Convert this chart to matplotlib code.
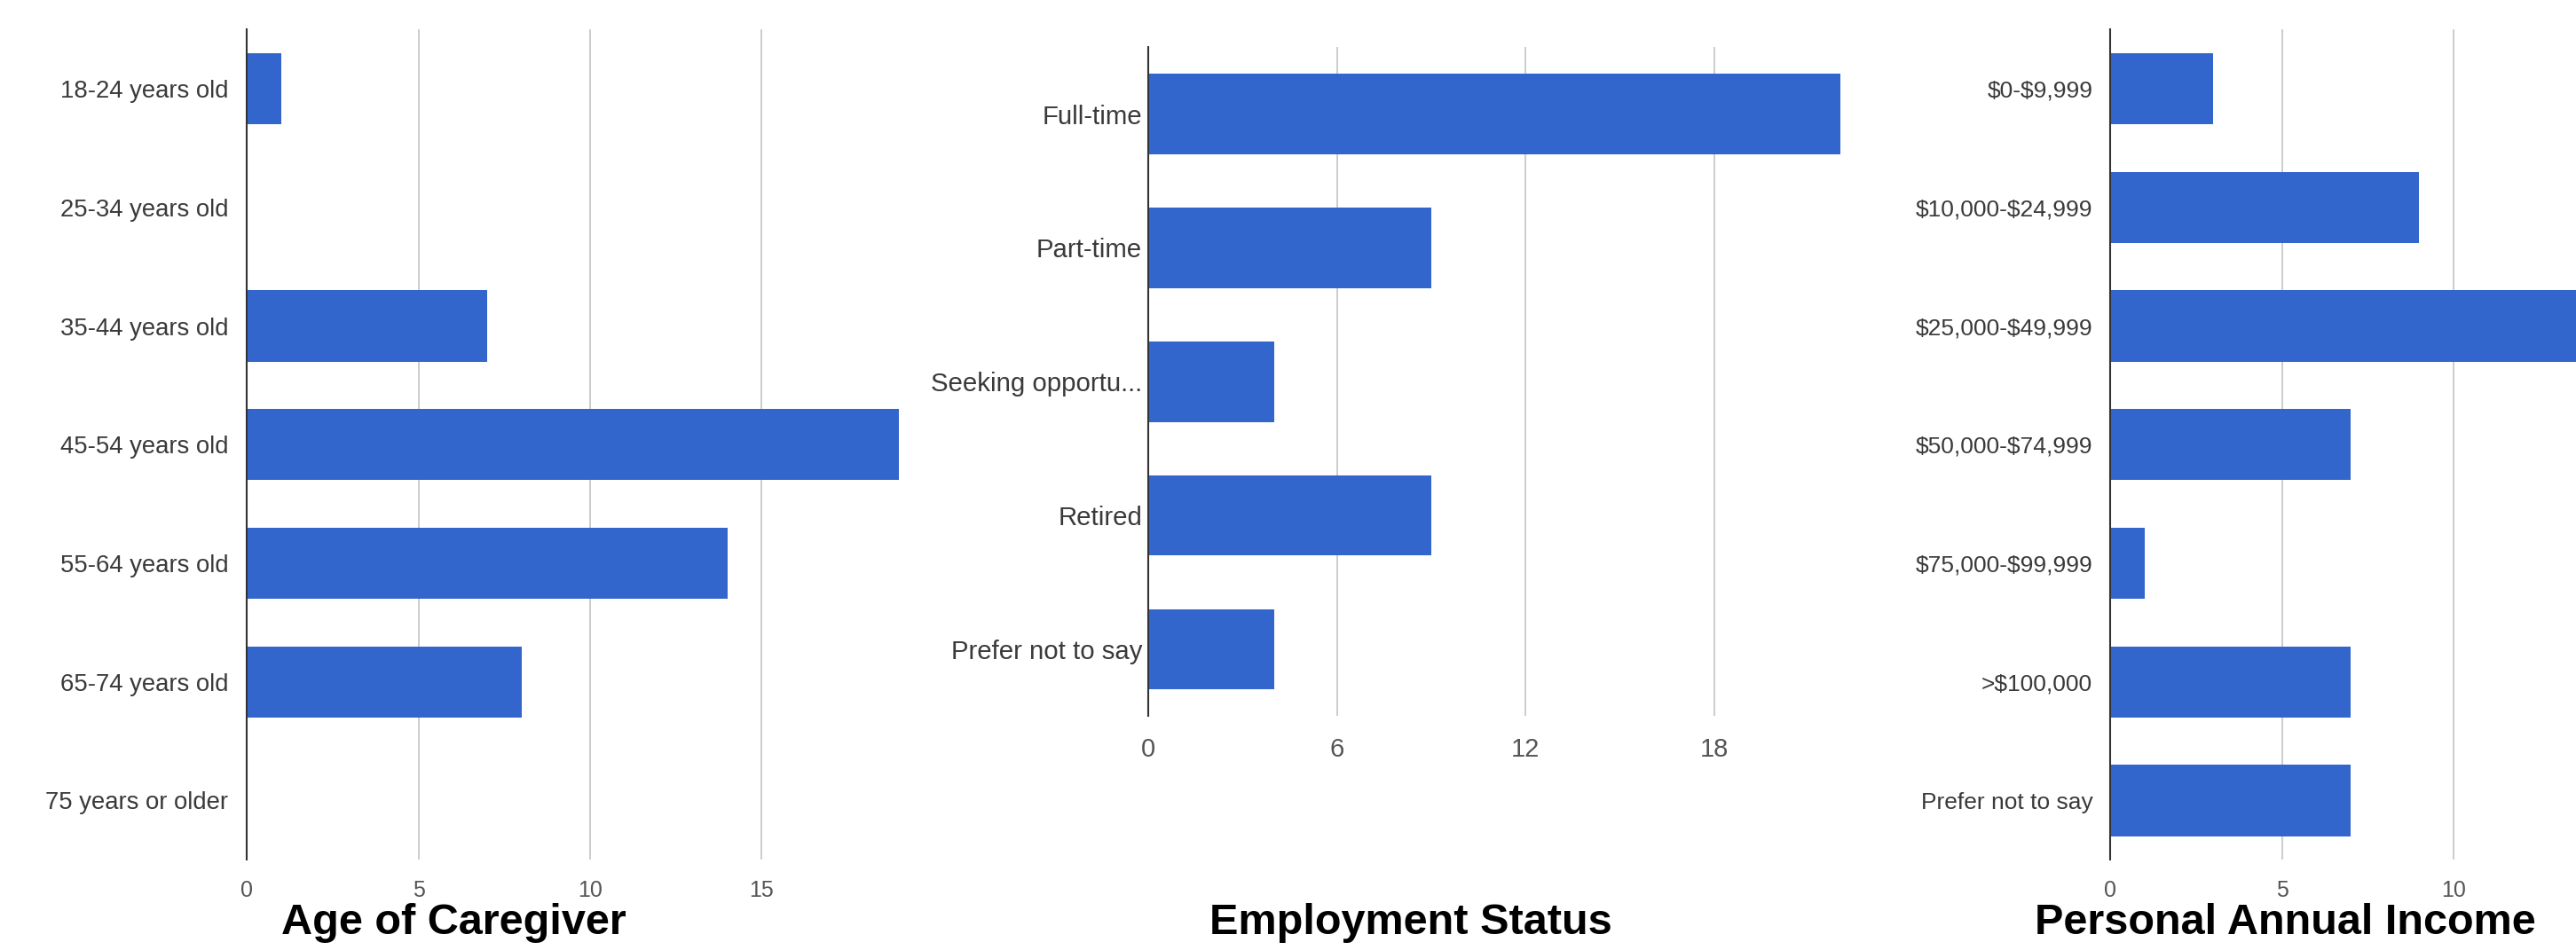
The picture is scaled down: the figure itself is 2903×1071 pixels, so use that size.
import matplotlib
matplotlib.use("Agg")
import matplotlib.pyplot as plt

plt.rcParams['font.family'] = ['Liberation Sans', 'DejaVu Sans']
plt.rcParams['text.parse_math'] = False

# ---- data ----
age_labels = ["18-24 years old", "25-34 years old", "35-44 years old", "45-54 years old",
              "55-64 years old", "65-74 years old", "75 years or older"]
age_values = [1, 0, 7, 19, 14, 8, 0]
age_ticks = [0, 5, 10, 15]

emp_labels = ["Full-time", "Part-time", "Seeking opportu...", "Retired", "Prefer not to say"]
emp_values = [22, 9, 4, 9, 4]
emp_ticks = [0, 6, 12, 18]

inc_labels = ["$0-$9,999", "$10,000-$24,999", "$25,000-$49,999", "$50,000-$74,999",
              "$75,000-$99,999", ">$100,000", "Prefer not to say"]
inc_values = [3, 9, 15, 7, 1, 7, 7]
inc_ticks = [0, 5, 10]

titles = ["Age of Caregiver", "Employment Status", "Personal Annual Income"]

W, H = 2903, 1071
fig = plt.figure(figsize=(W / 100, H / 100), dpi=100)
fig.patch.set_facecolor('white')

BAR = '#3366cc'
GRID = '#cccccc'
AXIS = '#333333'
LABEL = '#3a3a3a'
TICK = '#555555'


def make_axes(left_px, top_px, bottom_px, width_px):
    return fig.add_axes([left_px / W, (H - bottom_px) / H, width_px / W, (bottom_px - top_px) / H])


def draw(ax, labels, values, ticks, xmax, yfs, xfs, ypad, xpad):
    pos = list(range(len(labels)))
    ax.barh(pos, values, height=0.6, color=BAR, edgecolor='none', zorder=2)
    ax.set_ylim(len(labels) - 0.5, -0.5)
    ax.set_xlim(0, xmax)
    ax.set_yticks(pos)
    ax.set_yticklabels(labels, fontsize=yfs, color=LABEL)
    ax.set_xticks(ticks)
    ax.set_xticklabels([str(t) for t in ticks], fontsize=xfs, color=TICK)
    ax.tick_params(axis='y', length=0, pad=ypad)
    ax.tick_params(axis='x', length=0, pad=xpad)
    for s in ['top', 'right', 'bottom']:
        ax.spines[s].set_visible(False)
    ax.spines['left'].set_color(AXIS)
    ax.spines['left'].set_linewidth(1.5)
    ax.spines['left'].set_zorder(3)
    ax.xaxis.grid(True, color=GRID, linewidth=1.4)
    ax.yaxis.grid(False)
    ax.set_axisbelow(True)
    ax.set_facecolor('none')


ax1 = make_axes(278.3, 33.3, 969.3, 19 * 38.67)
draw(ax1, age_labels, age_values, age_ticks, 19, 19.8, 18, 15, 16)

ax2 = make_axes(1294, 53.3, 807.3, 22 * 35.44)
draw(ax2, emp_labels, emp_values, emp_ticks, 22, 21.2, 21, 5, 17)

ax3 = make_axes(2378.3, 33.3, 969.3, 15 * 38.67)
draw(ax3, inc_labels, inc_values, inc_ticks, 15, 19, 18, 14.4, 16)

title_x = [511, 1589.5, 2575]
for t, x in zip(titles, title_x):
    fig.text(x / W, (H - 1053) / H, t, ha='center', va='baseline',
             fontsize=35, fontweight='bold', color='black')

fig.savefig('out.png', dpi=100, facecolor='white')
